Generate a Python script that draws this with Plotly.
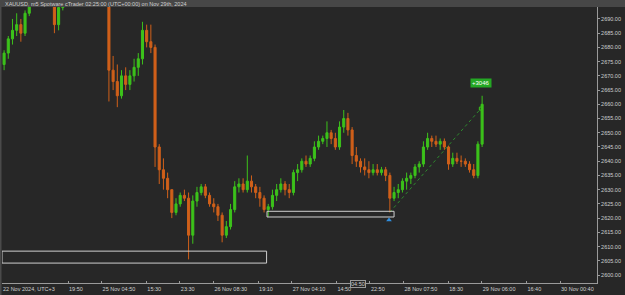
import plotly.graph_objects as go

# ---- data (hourly OHLC; x = trading hours since left edge) ----
bar_hours = [k + 0.5 for k in range(115)]
opens = [2674, 2678, 2683, 2686, 2688, 2685, 2692, 2697, 2701, 2704, 2702, 2700, 2697, 2688, 2694,
         2700, 2705, 2710, 2714, 2715, 2714, 2713, 2708, 2710, 2708, 2704, 2672, 2668, 2663, 2670,
         2667, 2670, 2673, 2676, 2686, 2682, 2680, 2645, 2637, 2634, 2630, 2622, 2625, 2628, 2627,
         2614, 2626, 2629, 2631, 2628, 2625, 2624, 2621, 2614, 2617, 2623, 2631, 2632, 2630, 2633,
         2631, 2629, 2627, 2623, 2624, 2628, 2630, 2632, 2630, 2629, 2636, 2637, 2640, 2639, 2641,
         2645, 2647, 2648, 2650, 2648, 2645, 2652, 2655, 2651, 2642, 2640, 2638, 2637, 2636, 2637,
         2636, 2637, 2635, 2627, 2629, 2630, 2633, 2634, 2635, 2638, 2639, 2645, 2648, 2647, 2646,
         2647, 2645, 2639, 2641, 2640, 2640, 2639, 2637, 2635, 2646]
highs = [2679, 2684, 2690, 2692, 2690, 2693, 2699, 2703, 2706, 2708, 2705, 2702, 2699, 2696, 2702,
         2706, 2712, 2716, 2718, 2717, 2716, 2715, 2712, 2713, 2710, 2705, 2677, 2674, 2672, 2673,
         2672, 2676, 2678, 2689, 2688, 2688, 2681, 2646, 2641, 2636, 2630, 2627, 2629, 2630, 2629,
         2628, 2631, 2632, 2632, 2629, 2627, 2625, 2622, 2619, 2625, 2633, 2634, 2634, 2642, 2635,
         2632, 2631, 2628, 2625, 2630, 2632, 2634, 2633, 2632, 2637, 2639, 2641, 2642, 2642, 2647,
         2649, 2649, 2654, 2651, 2650, 2654, 2658, 2657, 2652, 2645, 2641, 2641, 2640, 2639, 2639,
         2638, 2638, 2636, 2631, 2632, 2634, 2636, 2636, 2639, 2640, 2647, 2650, 2649, 2649, 2648,
         2648, 2645.5, 2643, 2643, 2642, 2641, 2640, 2639, 2647, 2663]
lows = [2672, 2676, 2681, 2684, 2682, 2684, 2691, 2695, 2699, 2700, 2697, 2695, 2685, 2686, 2693,
        2699, 2703, 2708, 2711, 2712, 2711, 2705, 2703, 2706, 2702, 2661, 2665, 2659, 2662, 2665,
        2665, 2668, 2670, 2674, 2680, 2678, 2638, 2632, 2630, 2627, 2620, 2621, 2624, 2626, 2605.5,
        2611, 2624, 2628, 2627, 2624, 2622, 2619, 2611.5, 2613, 2616, 2622, 2629, 2629, 2629, 2629,
        2627, 2624, 2622, 2620.5, 2623, 2626, 2629, 2628, 2627, 2628, 2633, 2636, 2638, 2638, 2640,
        2644, 2646, 2645, 2646, 2644, 2644, 2650, 2649, 2639, 2638, 2636, 2635, 2634, 2635, 2635,
        2635, 2633, 2622, 2626, 2627, 2629, 2630, 2632, 2634, 2636, 2638, 2644, 2645, 2645, 2644,
        2644, 2637, 2638, 2639, 2638, 2638, 2636, 2634, 2634, 2645]
closes = [2678, 2683, 2686, 2688, 2685, 2692, 2697, 2701, 2704, 2702, 2700, 2697, 2688, 2694, 2700,
          2705, 2710, 2714, 2715, 2714, 2713, 2708, 2710, 2708, 2704, 2672, 2668, 2663, 2670, 2667,
          2670, 2673, 2676, 2686, 2682, 2680, 2645, 2637, 2634, 2630, 2622, 2625, 2628, 2627, 2614,
          2626, 2629, 2631, 2628, 2625, 2624, 2621, 2614, 2617, 2623, 2631, 2632, 2630, 2633, 2631,
          2629, 2627, 2623, 2624, 2628, 2630, 2632, 2630, 2629, 2636, 2637, 2640, 2639, 2641, 2645,
          2647, 2648, 2650, 2648, 2645, 2652, 2655, 2651, 2642, 2640, 2638, 2637, 2636, 2637, 2636,
          2637, 2635, 2627, 2629, 2630, 2633, 2634, 2635, 2638, 2639, 2645, 2648, 2647, 2646, 2647,
          2645, 2639, 2641, 2640, 2640, 2639, 2637, 2635, 2646, 2660]

tick_hours = [0, 15.75, 23.75, 34.42, 42.42, 50.42, 61.08, 69.08, 79.75, 87.75, 95.75, 106.42,
              114.42, 125.08, 133.08]
tick_labels = ["22 Nov 2024, UTC+3", "19:50", "25 Nov 04:50", "15:30", "23:30", "26 Nov 08:30",
               "19:10", "27 Nov 04:10", "14:50", "22:50", "28 Nov 07:50", "18:30", "29 Nov 06:00",
               "16:40", "30 Nov 00:40"]
price_ticks = [2600, 2605, 2610, 2615, 2620, 2625, 2630, 2635, 2640, 2645, 2650, 2655, 2660,
               2665, 2670, 2675, 2680, 2685, 2690]

zone1 = dict(start=0, end=63.1, low=2604.2, high=2608.4)
zone2 = dict(start=63.2, end=93.5, low=2620.4, high=2622.4)
signal_point = dict(hour=92.3, price=2619.3)
trend_start = dict(hour=92.5, price=2622.1)
trend_end = dict(hour=114.2, price=2658.5)
gain_label = "+3046"
gain_pos = dict(hour=114.3, price=2667.4)
cursor_label = dict(hour=84.9, text="04:50")
title_text = "XAUUSD, m5 Spotware cTrader 02:25:00 (UTC+00:00) on Nov 29th, 2024"

BG = "#272727"
AX = "#9a9a9a"
GREEN = "#3cc21b"
ORANGE = "#d0601a"
FONT = "Liberation Sans"

fig = go.Figure()
fig.add_trace(go.Candlestick(
    x=bar_hours, open=opens, high=highs, low=lows, close=closes,
    increasing=dict(line=dict(color=GREEN, width=1), fillcolor=GREEN),
    decreasing=dict(line=dict(color=ORANGE, width=1), fillcolor=ORANGE),
    whiskerwidth=0, showlegend=False, hoverinfo="skip"))

fig.add_trace(go.Scatter(
    x=[trend_start["hour"], trend_end["hour"]], y=[trend_start["price"], trend_end["price"]],
    mode="lines", line=dict(color="#2e8b2e", width=1, dash="dot"), showlegend=False, hoverinfo="skip"))
fig.add_trace(go.Scatter(
    x=[trend_end["hour"]], y=[trend_end["price"]], mode="markers",
    marker=dict(symbol="square-open", size=3, color="#3cc21b"), showlegend=False, hoverinfo="skip"))
fig.add_trace(go.Scatter(
    x=[signal_point["hour"]], y=[signal_point["price"]], mode="markers",
    marker=dict(symbol="triangle-up", size=5, color="#2f8ee0"), showlegend=False, hoverinfo="skip"))

for z in (zone1, zone2):
    fig.add_shape(type="rect", xref="x", yref="y", x0=z["start"], x1=z["end"], y0=z["low"], y1=z["high"],
                  line=dict(color="#cfcfcf", width=1), fillcolor="rgba(0,0,0,0)")

# title bar & left frame strip
fig.add_shape(type="rect", xref="paper", yref="paper", x0=-2/595, x1=1+28/595, y0=1, y1=1+7/276,
              line=dict(width=0), fillcolor="#474747", layer="above")
fig.add_shape(type="rect", xref="paper", yref="paper", x0=-2/595, x1=-0.5/595, y0=-12/276, y1=1,
              line=dict(width=0), fillcolor="#4a4a4a", layer="above")

fig.add_annotation(xref="paper", yref="paper", x=0.5/595, y=1+3.5/276, xanchor="left", yanchor="middle",
                   text=title_text, showarrow=False, font=dict(family=FONT, size=5.5, color="#d0d0d0"))
fig.add_annotation(xref="x", yref="y", x=gain_pos["hour"], y=gain_pos["price"], text=gain_label,
                   showarrow=False, bgcolor="#24a824", borderpad=1,
                   font=dict(family=FONT, size=6, color="#ffffff"))
fig.add_annotation(xref="x", yref="paper", x=cursor_label["hour"], y=-1/276, text=cursor_label["text"],
                   showarrow=False, bgcolor=BG, bordercolor=AX, borderwidth=1, borderpad=0,
                   yanchor="middle", font=dict(family=FONT, size=5.5, color="#d0d0d0"))

fig.update_layout(
    width=625, height=295, margin=dict(l=2, r=28, t=7, b=12),
    paper_bgcolor=BG, plot_bgcolor=BG,
    font=dict(family=FONT, size=5.5, color="#cfcfcf"),
    xaxis=dict(range=[0, 141.9], rangeslider=dict(visible=False), showgrid=False, zeroline=False,
               tickmode="array", tickvals=tick_hours, ticktext=tick_labels,
               ticks="inside", ticklen=2, tickcolor=AX, showline=True, linecolor=AX, linewidth=1,
               ticklabelposition="outside right", tickfont=dict(family=FONT, size=5.5, color="#cfcfcf")),
    yaxis=dict(range=[2597.2, 2694.2], side="right", showgrid=False, zeroline=False,
               tickmode="array", tickvals=price_ticks, ticktext=[f"{p:.2f}" for p in price_ticks],
               ticks="outside", ticklen=2, tickcolor=AX, showline=True, linecolor=AX, linewidth=1,
               tickfont=dict(family=FONT, size=5.5, color="#cfcfcf")),
)

fig.write_html("out.html")
